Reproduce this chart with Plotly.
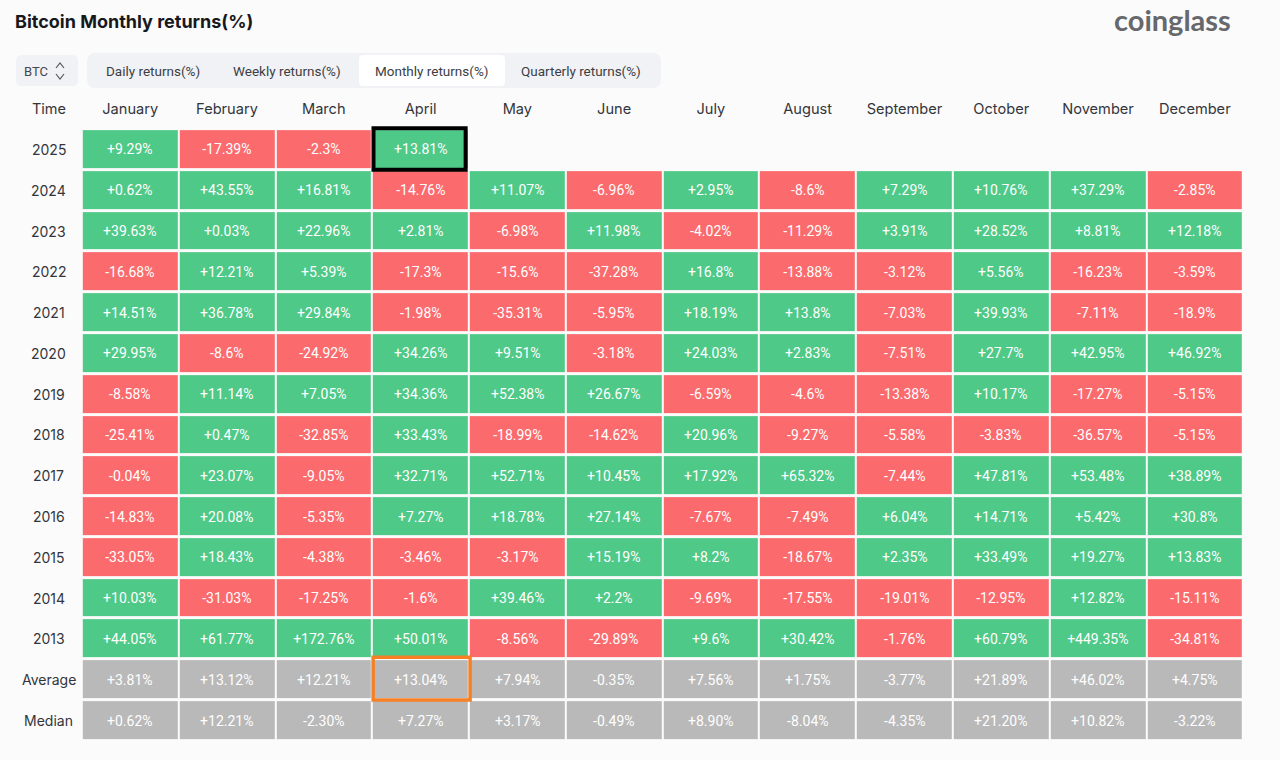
import plotly.graph_objects as go

months = ["January", "February", "March", "April", "May", "June", "July", "August",
          "September", "October", "November", "December"]
row_labels = ["2025", "2024", "2023", "2022", "2021", "2020", "2019", "2018", "2017",
              "2016", "2015", "2014", "2013", "Average", "Median"]

y2025 = [9.29, -17.39, -2.3, 13.81, None, None, None, None, None, None, None, None]
y2024 = [0.62, 43.55, 16.81, -14.76, 11.07, -6.96, 2.95, -8.6, 7.29, 10.76, 37.29, -2.85]
y2023 = [39.63, 0.03, 22.96, 2.81, -6.98, 11.98, -4.02, -11.29, 3.91, 28.52, 8.81, 12.18]
y2022 = [-16.68, 12.21, 5.39, -17.3, -15.6, -37.28, 16.8, -13.88, -3.12, 5.56, -16.23, -3.59]
y2021 = [14.51, 36.78, 29.84, -1.98, -35.31, -5.95, 18.19, 13.8, -7.03, 39.93, -7.11, -18.9]
y2020 = [29.95, -8.6, -24.92, 34.26, 9.51, -3.18, 24.03, 2.83, -7.51, 27.7, 42.95, 46.92]
y2019 = [-8.58, 11.14, 7.05, 34.36, 52.38, 26.67, -6.59, -4.6, -13.38, 10.17, -17.27, -5.15]
y2018 = [-25.41, 0.47, -32.85, 33.43, -18.99, -14.62, 20.96, -9.27, -5.58, -3.83, -36.57, -5.15]
y2017 = [-0.04, 23.07, -9.05, 32.71, 52.71, 10.45, 17.92, 65.32, -7.44, 47.81, 53.48, 38.89]
y2016 = [-14.83, 20.08, -5.35, 7.27, 18.78, 27.14, -7.67, -7.49, 6.04, 14.71, 5.42, 30.8]
y2015 = [-33.05, 18.43, -4.38, -3.46, -3.17, 15.19, 8.2, -18.67, 2.35, 33.49, 19.27, 13.83]
y2014 = [10.03, -31.03, -17.25, -1.6, 39.46, 2.2, -9.69, -17.55, -19.01, -12.95, 12.82, -15.11]
y2013 = [44.05, 61.77, 172.76, 50.01, -8.56, -29.89, 9.6, 30.42, -1.76, 60.79, 449.35, -34.81]
average = [3.81, 13.12, 12.21, 13.04, 7.94, -0.35, 7.56, 1.75, -3.77, 21.89, 46.02, 4.75]
median = [0.62, 12.21, -2.30, 7.27, 3.17, -0.49, 8.90, -8.04, -4.35, 21.20, 10.82, -3.22]

tabs = ["Daily returns(%)", "Weekly returns(%)", "Monthly returns(%)", "Quarterly returns(%)"]

rows = [y2025, y2024, y2023, y2022, y2021, y2020, y2019, y2018, y2017, y2016, y2015,
        y2014, y2013, average, median]

W, H = 1280, 760
BG = "#fbfbfc"
GREEN = "#4fc987"
RED = "#fb6b6d"
GREY = "#b9b9b9"
DARK = "#33353a"
LABEL_FONT = "Roboto"
TEXT_FONT = "Inter"


def px_x(x):
    return x / W


def px_y(y):
    return 1 - y / H


def rounded(x0, y0, x1, y1, r, fill):
    # rounded box given in screen pixels
    a, b, c, d = px_x(x0), px_y(y0), px_x(x1), px_y(y1)
    rx, ry = r / W, r / H
    path = (f"M{a + rx},{b} L{c - rx},{b} Q{c},{b} {c},{b - ry} L{c},{d + ry} Q{c},{d} {c - rx},{d} "
            f"L{a + rx},{d} Q{a},{d} {a},{d + ry} L{a},{b - ry} Q{a},{b} {a + rx},{b} Z")
    return dict(type="path", xref="paper", yref="paper", path=path, fillcolor=fill,
                line=dict(width=0), layer="below")


def chevron(x0, xm, x1, y0, ym):
    path = f"M{px_x(x0)},{px_y(y0)} L{px_x(xm)},{px_y(ym)} L{px_x(x1)},{px_y(y0)}"
    return dict(type="path", xref="paper", yref="paper", path=path,
                line=dict(color="#55575c", width=1.2))


# colour class: 0 red, 1 green, 2 grey
classes = []
labels = []
for name, row in zip(row_labels, rows):
    cls_row, txt_row = [], []
    for v in row:
        if v is None:
            cls_row.append(None)
            txt_row.append("")
        elif name in ("Average", "Median"):
            cls_row.append(2)
            txt_row.append(f"{v:+.2f}%")
        else:
            cls_row.append(1 if v >= 0 else 0)
            txt_row.append(f"{v:+g}%")
    classes.append(cls_row)
    labels.append(txt_row)

fig = go.Figure(go.Heatmap(
    x=months, y=row_labels, z=classes, text=labels, texttemplate="%{text}",
    textfont=dict(family=LABEL_FONT, size=14, color="white"),
    zmin=0, zmax=2, showscale=False, xgap=2, ygap=3, hoverinfo="text",
    colorscale=[[0, RED], [0.33, RED], [0.33, GREEN], [0.66, GREEN], [0.66, GREY], [1, GREY]],
))

shapes = [
    rounded(16, 55, 78, 86, 6, "#f1f2f5"),
    rounded(87, 53, 661, 88, 9, "#f1f2f5"),
    rounded(359, 55, 505, 86, 4, "#ffffff"),
    chevron(56, 60, 64, 68, 63),
    chevron(56, 60, 64, 74, 79),
    # highlighted cells
    dict(type="rect", xref="x", yref="y", x0=2.514, x1=3.466, y0=-0.52, y1=0.5,
         line=dict(color="#000000", width=4)),
    dict(type="rect", xref="x", yref="y", x0=2.51, x1=3.512, y0=12.45, y1=13.5,
         line=dict(color="#f58025", width=3.5)),
]

annotations = [
    dict(text="<b>Bitcoin Monthly returns(%)</b>", x=px_x(13), y=px_y(21), xanchor="left",
         font=dict(family=TEXT_FONT, size=18, color="#17181c")),
    dict(text="<b>coinglass</b>", x=px_x(1233), y=px_y(20), xanchor="right",
         font=dict(family="Lato", size=29, color="#66686b")),
    dict(text="BTC", x=px_x(36), y=px_y(71), font=dict(family=LABEL_FONT, size=13, color="#45474c")),
    dict(text="Time", x=px_x(48.5), y=px_y(109), font=dict(family=TEXT_FONT, size=14.5, color=DARK)),
]
for name, cx in zip(tabs, [153, 287, 431, 581]):
    annotations.append(dict(text=name, x=px_x(cx), y=px_y(70.5),
                            font=dict(family=LABEL_FONT, size=13.5, color="#3c3e43")))
# row labels are centred, which tick labels cannot do
for i, name in enumerate(row_labels):
    annotations.append(dict(text=name, x=px_x(48.5), xref="paper", y=i, yref="y",
                            font=dict(family=TEXT_FONT, size=14, color=DARK)))
for a in annotations:
    a["showarrow"] = False
    a.setdefault("xref", "paper")
    a.setdefault("yref", "paper")
    a.setdefault("xanchor", "center")
    a.setdefault("yanchor", "middle")

fig.update_layout(
    width=W, height=H, margin=dict(l=0, r=0, t=0, b=0),
    paper_bgcolor=BG, plot_bgcolor=BG, shapes=shapes, annotations=annotations,
    xaxis=dict(domain=[px_x(81.8), px_x(1243.2)], side="top", type="category", showgrid=False,
               zeroline=False, showline=False, ticks="outside", ticklen=4, tickcolor="rgba(0,0,0,0)",
               tickfont=dict(family=TEXT_FONT, size=14.6, color=DARK)),
    # a little room above the first row so the black box is not clipped
    yaxis=dict(domain=[px_y(740.9), px_y(125)], type="category", categoryorder="array",
               categoryarray=row_labels, range=[14.5, -0.6],
               showgrid=False, zeroline=False, showline=False, showticklabels=False),
)

fig.write_html("out.html", config={"displayModeBar": False},
               post_script="document.body.style.margin='0';")
